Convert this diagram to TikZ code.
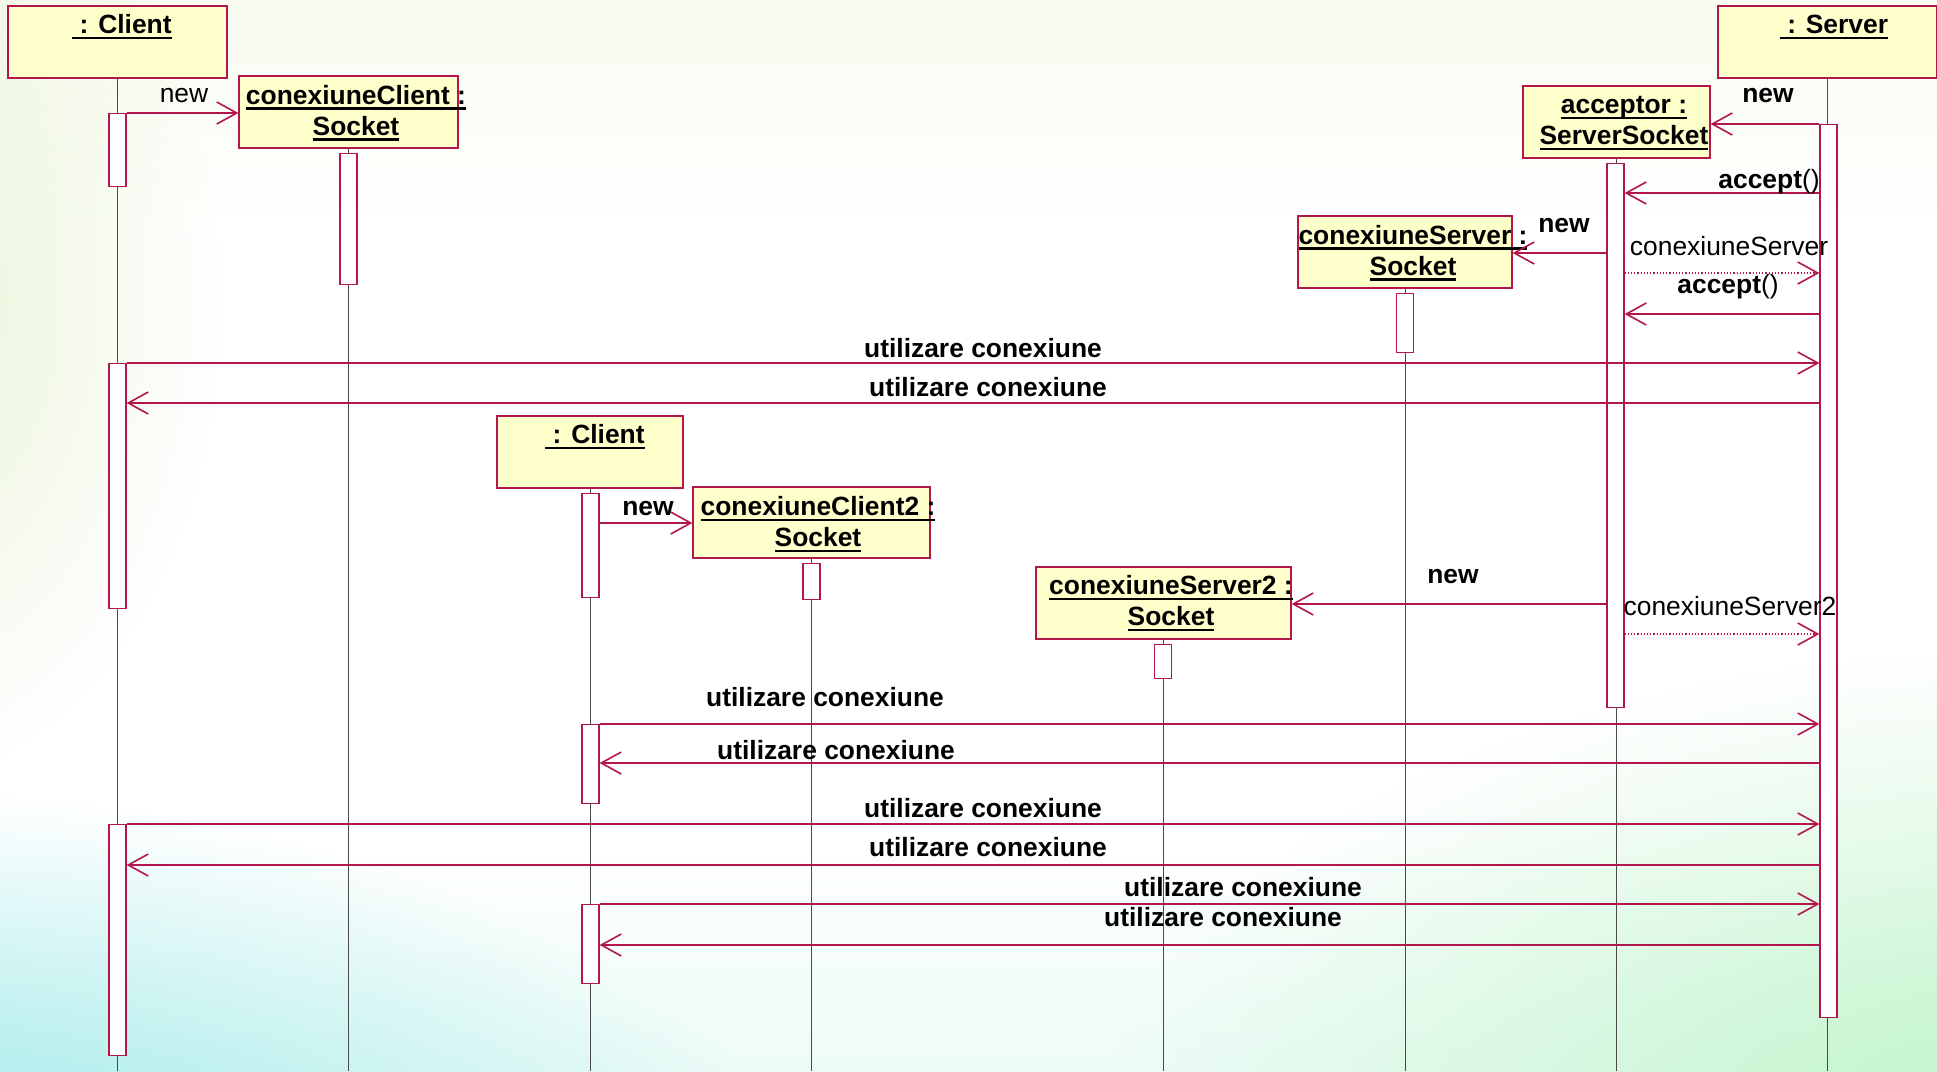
\documentclass[tikz,border=0pt]{standalone}
\usepackage{fontspec}
\setmainfont{Liberation Sans}
\usetikzlibrary{arrows.meta,fadings}

\definecolor{umlred}{HTML}{B3164C}
\definecolor{objfill}{HTML}{FFFFCC}
\definecolor{lifegray}{HTML}{4A4A4A}
\definecolor{bgtop}{HTML}{EAF3D8}
\definecolor{bgupper}{HTML}{F5FAEA}
\definecolor{bglower}{HTML}{E2FAF3}
\definecolor{bgbot}{HTML}{B0EEE4}
\definecolor{glowcyan}{HTML}{86E4E6}
\definecolor{glowgreen}{HTML}{BDF4C6}
\definecolor{glowleaf}{HTML}{E9F4D6}

\pgfdeclareverticalshading{pagebg}{100bp}{%
  color(0bp)=(bgbot); color(18bp)=(bglower); color(36bp)=(white);
  color(64bp)=(white); color(80bp)=(bgupper); color(100bp)=(bgtop)}
\tikzfading[name=softglow, inner color=transparent!0, outer color=transparent!100]

% underline drawn as a heavier rule below the text
\newsavebox\ulsave
\newcommand\ulbox[1]{\sbox\ulsave{#1}\rlap{\rule[-2.8pt]{\wd\ulsave}{1.2pt}}\usebox\ulsave}

\tikzset{
  objbox/.style={draw=umlred, fill=objfill, line width=0.6pt,
    minimum height=36pt, inner sep=0pt},
  objtxt/.style={font=\fontsize{13.2}{15.5}\selectfont\bfseries,
    align=center, inner sep=0pt},
  actbox/.style={draw=umlred, fill=white, line width=0.6pt,
    minimum width=8.5pt, inner sep=0pt, anchor=north},
  lifeline/.style={draw=lifegray, line width=0.4pt},
  msg/.style={draw=umlred, line width=0.6pt,
    -{Straight Barb[length=10pt,width=11pt,line width=0.8pt]}},
  ret/.style={msg, densely dotted},
  mlbl/.style={font=\fontsize{13.2}{15}\selectfont\bfseries, inner sep=0pt},
  mlblr/.style={font=\fontsize{13.2}{15}\selectfont, inner sep=0pt},
}

\begin{document}
\begin{tikzpicture}[x=0.5pt,y=-0.5pt]
\useasboundingbox (0,0) rectangle (1937,1071);

% page background
\shade[shading=pagebg] (0,0) rectangle (1937,1071);
\fill[glowleaf, path fading=softglow] (-100,300) ellipse [x radius=320, y radius=480];
\fill[glowcyan, path fading=softglow] (-150,1290) ellipse [x radius=1000, y radius=500];
\fill[glowgreen, path fading=softglow] (2050,1150) ellipse [x radius=950, y radius=500];

\coordinate (bot) at (0,1071);

% objects
\node[objbox, minimum width=109.5pt] (client)  at (117.5,42)  {};
\node[objbox, minimum width=109.5pt] (server)  at (1827.5,42) {};
\node[objbox, minimum width=93.5pt]  (acc)     at (1616.5,122) {};
\node[objbox, minimum width=109.5pt] (cc)      at (348.5,112) {};
\node[objbox, minimum width=107pt]   (cs)      at (1405,252)  {};
\node[objbox, minimum width=93pt]    (client2) at (590,452)   {};
\node[objbox, minimum width=118.5pt, minimum height=35.5pt] (cc2) at (811.5,522.5) {};
\node[objbox, minimum width=127.5pt] (cs2)     at (1163.5,603) {};

\node[objtxt] (clientT)  at (122,27)    {\ulbox{\ : Client}};
\node[objtxt] (serverT)  at (1834,27)   {\ulbox{\ : Server}};
\node[objtxt] (accT)     at (1624,123)  {\ulbox{acceptor :}\\\ulbox{ServerSocket}};
\node[objtxt] (ccT)      at (356,113)   {\ulbox{conexiuneClient :}\\\ulbox{Socket}};
\node[objtxt] (csT)      at (1413,253)  {\ulbox{conexiuneServer :}\\\ulbox{Socket}};
\node[objtxt] (client2T) at (595,437)   {\ulbox{\ : Client}};
\node[objtxt] (cc2T)     at (818,524.5) {\ulbox{conexiuneClient2 :}\\\ulbox{Socket}};
\node[objtxt] (cs2T)     at (1171,603.5){\ulbox{conexiuneServer2 :}\\\ulbox{Socket}};

% lifelines
\foreach \o in {client,server,acc,cc,cs,client2,cc2,cs2}
  \draw[lifeline] (\o.south) -- (\o.south |- bot);

% activations
\node[actbox, minimum height=36.5pt]  (cb1)  at (117.5,113) {};
\node[actbox, minimum height=122.5pt] (cb2)  at (117.5,363) {};
\node[actbox, minimum height=115.5pt] (cb3)  at (117.5,824) {};
\node[actbox, minimum height=65.5pt]  (ccb)  at (348.5,153) {};
\node[actbox, minimum height=446.5pt] (sb)   at (1828.5,124) {};
\node[actbox, minimum height=272pt]   (ab)   at (1615.5,163) {};
\node[actbox, minimum height=29.5pt]  (csb)  at (1405,293) {};
\node[actbox, minimum height=52pt]    (c2b1) at (590.5,493) {};
\node[actbox, minimum height=39.5pt]  (c2b2) at (590.5,724) {};
\node[actbox, minimum height=39.5pt]  (c2b3) at (590.5,904) {};
\node[actbox, minimum height=18pt]    (cc2b) at (811.5,563) {};
\node[actbox, minimum height=17pt]    (cs2b) at (1163,644) {};

% message rows
\coordinate (r3)  at (0,193);
\coordinate (r4)  at (0,253);
\coordinate (r5)  at (0,273);
\coordinate (r6)  at (0,314);
\coordinate (r8)  at (0,403);
\coordinate (r9)  at (0,523);
\coordinate (r10) at (0,604);
\coordinate (r11) at (0,634);
\coordinate (r13) at (0,763);
\coordinate (r15) at (0,865);
\coordinate (r17) at (0,945);

% messages
\draw[msg] (cb1.north east) -- (cc.west |- cb1.north east);
\draw[msg] (sb.north west) -- (acc.east |- sb.north west);
\draw[msg] (sb.west |- r3) -- (ab.east |- r3);
\draw[msg] (ab.west |- r4) -- (cs.east |- r4);
\draw[ret] (ab.east |- r5) -- (sb.west |- r5);
\draw[msg] (sb.west |- r6) -- (ab.east |- r6);
\draw[msg] (cb2.north east) -- (sb.west |- cb2.north east);
\draw[msg] (sb.west |- r8) -- (cb2.east |- r8);
\draw[msg] (c2b1.east |- r9) -- (cc2.west |- r9);
\draw[msg] (ab.west |- r10) -- (cs2.east |- r10);
\draw[ret] (ab.east |- r11) -- (sb.west |- r11);
\draw[msg] (c2b2.north east) -- (sb.west |- c2b2.north east);
\draw[msg] (sb.west |- r13) -- (c2b2.east |- r13);
\draw[msg] (cb3.north east) -- (sb.west |- cb3.north east);
\draw[msg] (sb.west |- r15) -- (cb3.east |- r15);
\draw[msg] (c2b3.north east) -- (sb.west |- c2b3.north east);
\draw[msg] (sb.west |- r17) -- (c2b3.east |- r17);

% message labels
\node[mlblr] (l1)  at (184,96)   {new};
\node[mlbl]  (l2)  at (1768,96)  {new};
\node[mlbl]  (l3)  at (1769,182) {accept\mdseries()};
\node[mlbl]  (l4)  at (1564,226) {new};
\node[mlblr] (l5)  at (1729,246) {conexiuneServer};
\node[mlbl]  (l6)  at (1728,287) {accept\mdseries()};
\node[mlbl]  (l7)  at (983,348)  {utilizare conexiune};
\node[mlbl]  (l8)  at (988,387)  {utilizare conexiune};
\node[mlbl]  (l9)  at (648,509)  {new};
\node[mlbl]  (l10) at (1453,577) {new};
\node[mlblr] (l11) at (1730,606) {conexiuneServer2};
\node[mlbl]  (l12) at (825,697)  {utilizare conexiune};
\node[mlbl]  (l13) at (836,750)  {utilizare conexiune};
\node[mlbl]  (l14) at (983,808)  {utilizare conexiune};
\node[mlbl]  (l15) at (988,847)  {utilizare conexiune};
\node[mlbl]  (l16) at (1243,887) {utilizare conexiune};
\node[mlbl]  (l17) at (1223,917) {utilizare conexiune};
\end{tikzpicture}
\end{document}
